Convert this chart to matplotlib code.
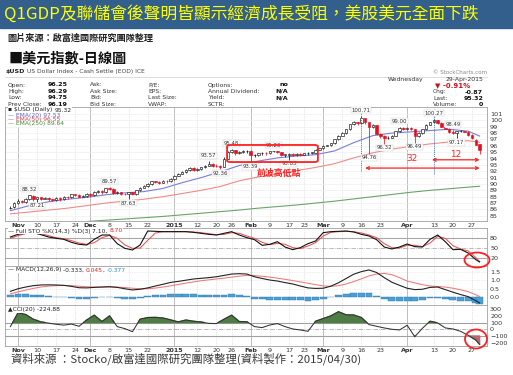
import matplotlib
matplotlib.use("Agg")
import matplotlib.pyplot as plt
from matplotlib.patches import Rectangle, FancyBboxPatch, Ellipse
from matplotlib.lines import Line2D

plt.rcParams['font.family'] = ['DejaVu Sans', 'Noto Sans CJK TC']
CJK = ['Noto Sans CJK TC', 'DejaVu Sans']

# ---------------- data (trading-day index 0 = 30-Oct-2014 ... 123 = 29-Apr-2015)
close = [86.3, 87.0,
         87.4, 87.1, 87.6, 88.2, 87.6,
         87.9, 87.7, 87.8, 87.6, 87.5,
         87.8, 87.6, 88.0, 87.9, 88.4,
         88.3, 88.0, 88.1, 88.5,
         88.2, 88.8, 88.9, 88.7, 89.3,
         89.2, 88.6, 88.7, 88.5, 88.4,
         88.7, 88.4, 89.0, 89.4, 89.7,
         90.0, 90.4, 90.3, 90.2,
         90.5, 90.4, 90.8, 91.3,
         91.6, 91.9, 92.2, 92.5, 92.2,
         92.3, 92.6, 92.9, 93.2, 92.9,
         92.8, 92.7, 94.0, 95.0,
         95.3, 94.8, 95.1, 95.2, 95.2,
         94.5, 94.5, 94.8, 94.9, 94.8,
         95.2, 95.2, 95.1, 94.6, 94.6,
         94.7, 94.6, 94.7, 94.6,
         94.8, 94.9, 94.9, 95.4, 95.6,
         96.0, 96.1, 96.4, 97.0, 97.6,
         98.0, 98.6, 99.4, 99.7, 99.6,
         100.3, 99.7, 98.9, 99.2, 97.9,
         97.6, 97.2, 97.3, 97.6, 98.3,
         98.8, 98.7, 98.8, 98.6,
         97.5, 98.0, 98.6, 99.3, 99.7,
         100.1, 99.6, 99.0, 98.7, 98.2,
         98.0, 98.3, 98.4, 98.2, 97.7,
         97.2, 96.19, 95.32]
open_ = [86.2, 86.4,
         87.0, 87.4, 87.1, 87.6, 88.1,
         87.6, 87.9, 87.7, 87.8, 87.6,
         87.5, 87.8, 87.6, 88.0, 87.9,
         88.4, 88.3, 88.0, 88.1,
         88.5, 88.2, 88.8, 88.9, 88.7,
         89.3, 89.2, 88.6, 88.7, 88.5,
         88.4, 88.7, 88.4, 89.0, 89.4,
         89.7, 90.0, 90.4, 90.3,
         90.2, 90.5, 90.4, 90.8,
         91.3, 91.6, 91.9, 92.2, 92.5,
         92.2, 92.3, 92.6, 92.9, 93.2,
         92.9, 92.8, 92.7, 94.0,
         95.0, 95.3, 94.8, 95.1, 95.2,
         95.2, 94.5, 94.5, 94.8, 94.9,
         94.8, 95.2, 95.2, 95.1, 94.6,
         94.6, 94.7, 94.6, 94.7,
         94.6, 94.8, 94.9, 94.9, 95.4,
         95.6, 96.0, 96.1, 96.4, 97.0,
         97.6, 98.0, 98.6, 99.4, 99.7,
         99.6, 100.3, 99.7, 98.9, 99.2,
         97.9, 97.6, 97.2, 97.3, 97.6,
         98.3, 98.8, 98.7, 98.8,
         98.6, 97.5, 98.0, 98.6, 99.3,
         99.7, 100.1, 99.6, 99.0, 98.7,
         98.2, 98.0, 98.3, 98.4, 98.2,
         97.7, 96.9, 96.25]
high = [86.5, 87.2,
        87.6, 87.5, 87.8, 88.32, 88.2,
        88.0, 88.0, 87.9, 87.9, 87.7,
        87.9, 87.9, 88.1, 88.1, 88.5,
        88.5, 88.4, 88.2, 88.6,
        88.6, 88.9, 89.1, 89.0, 89.4,
        89.57, 89.3, 88.9, 88.8, 88.6,
        88.8, 88.8, 89.1, 89.5, 89.8,
        90.1, 90.5, 90.5, 90.4,
        90.6, 90.6, 90.9, 91.4,
        91.8, 92.0, 92.3, 92.6, 92.6,
        92.5, 92.7, 93.0, 93.57, 93.3,
        93.1, 93.0, 94.2, 95.2,
        95.48, 95.3, 95.2, 95.3, 95.4,
        95.3, 94.7, 94.9, 95.0, 95.0,
        95.2, 95.23, 95.2, 95.1, 94.7,
        94.8, 94.8, 94.8, 94.8,
        94.9, 95.0, 95.0, 95.5, 95.7,
        96.1, 96.2, 96.5, 97.1, 97.7,
        98.1, 98.7, 99.5, 99.9, 99.8,
        100.71, 100.3, 99.8, 99.4, 99.3,
        98.0, 97.7, 97.5, 97.7, 98.4,
        99.0, 98.9, 98.9, 98.9,
        98.7, 98.1, 98.7, 99.4, 99.8,
        100.27, 100.1, 99.7, 99.1, 98.8,
        98.49, 98.4, 98.45, 98.4, 98.3,
        97.8, 97.0, 96.29]
low = [86.1, 86.3,
       86.9, 87.0, 87.0, 87.5, 87.3,
       87.21, 87.5, 87.6, 87.4, 87.3,
       87.4, 87.4, 87.5, 87.7, 87.8,
       88.1, 87.9, 87.9, 88.0,
       88.0, 88.1, 88.6, 88.5, 88.6,
       89.0, 88.4, 88.5, 88.3, 88.2,
       87.63, 88.2, 88.3, 88.9, 89.3,
       89.6, 89.9, 90.1, 90.0,
       90.1, 90.2, 90.3, 90.7,
       91.2, 91.5, 91.8, 92.1, 92.0,
       92.0, 92.2, 92.5, 92.8, 92.7,
       92.6, 92.36, 92.6, 93.9,
       94.8, 94.6, 94.7, 94.9, 94.9,
       93.39, 94.3, 94.4, 94.6, 94.5,
       94.7, 95.0, 94.9, 94.4, 94.3,
       93.83, 94.4, 94.4, 94.4,
       94.5, 94.6, 94.7, 94.8, 95.3,
       95.5, 95.9, 96.0, 96.3, 96.9,
       97.5, 97.9, 98.5, 99.3, 99.3,
       99.5, 99.5, 94.76, 98.8, 97.7,
       97.3, 96.32, 97.0, 97.2, 97.5,
       98.2, 98.5, 98.5, 98.5,
       96.49, 97.4, 97.9, 98.5, 99.2,
       99.6, 99.4, 98.9, 98.6, 98.0,
       97.8, 97.17, 98.1, 98.1, 97.6,
       97.1, 96.1, 94.75]

ema_idx = [0, 5, 10, 15, 20, 25, 30, 35, 40, 45, 50, 55, 60, 65, 70, 75, 80,
           85, 90, 95, 100, 105, 110, 115, 120, 123]
ema20 = [85.8, 86.6, 87.2, 87.6, 87.9, 88.3, 88.6, 88.8, 89.3, 90.2, 91.0, 91.9,
         92.9, 93.6, 94.1, 94.4, 94.6, 95.2, 96.5, 97.6, 98.0, 98.2, 98.4, 98.6,
         98.3, 97.53]
ema50 = [85.3, 85.6, 85.9, 86.2, 86.6, 87.0, 87.3, 87.6, 88.0, 88.5, 89.0, 89.6,
         90.5, 91.1, 91.6, 92.1, 92.6, 93.2, 94.1, 94.9, 95.5, 95.9, 96.3, 96.6,
         96.8, 96.55]
ema250 = [83.3, 83.5, 83.7, 83.9, 84.1, 84.3, 84.5, 84.7, 84.9, 85.15, 85.4, 85.65,
          85.9, 86.2, 86.45, 86.7, 87.0, 87.3, 87.65, 88.0, 88.35, 88.7, 89.0,
          89.25, 89.5, 89.64]

# oscillators, read every second trading day
osc_idx = list(range(0, 124, 2)) + [123]
sto_k = [82, 90, 94, 95, 89, 82, 78, 75, 66, 60,
         58, 75, 88, 88, 62, 48, 43, 58, 100, 99,
         98, 98, 98, 98, 96, 93, 90, 88, 93, 98,
         88, 80, 74, 57, 60, 68, 52, 44, 50, 62,
         70, 95, 98, 99, 100, 97, 90, 85, 74, 52,
         46, 52, 61, 53, 52, 75, 88, 68, 44, 45,
         34, 14, 7.10]
sto_d = [78, 86, 92, 94, 92, 86, 80, 77, 71, 64,
         60, 65, 80, 87, 78, 58, 48, 49, 72, 94,
         98, 98, 98, 98, 97, 95, 92, 89, 90, 95,
         93, 85, 78, 66, 59, 63, 60, 50, 47, 55,
         65, 85, 96, 98, 99, 98, 94, 88, 80, 62,
         50, 49, 57, 57, 53, 64, 84, 78, 56, 46,
         40, 20, 8.70]
macd = [0.35, 0.5, 0.6, 0.68, 0.72, 0.73, 0.72, 0.7, 0.64, 0.56,
        0.55, 0.58, 0.6, 0.62, 0.58, 0.5, 0.43, 0.47, 0.55, 0.66,
        0.76, 0.87, 0.93, 1.0, 1.07, 1.11, 1.15, 1.2, 1.28, 1.36,
        1.38, 1.36, 1.2, 1.1, 1.01, 0.95, 0.86, 0.78, 0.66, 0.55,
        0.52, 0.53, 0.65, 0.85, 1.1, 1.35, 1.5, 1.6, 1.45, 1.15,
        0.88, 0.7, 0.53, 0.45, 0.47, 0.58, 0.6, 0.45, 0.3, 0.16,
        0.04, -0.2, -0.333]
macd_sig = [0.2, 0.32, 0.42, 0.52, 0.6, 0.65, 0.68, 0.69, 0.68, 0.65,
            0.62, 0.6, 0.6, 0.6, 0.6, 0.57, 0.53, 0.5, 0.5, 0.54,
            0.6, 0.67, 0.75, 0.83, 0.9, 0.97, 1.02, 1.07, 1.12, 1.18,
            1.24, 1.28, 1.27, 1.23, 1.18, 1.12, 1.05, 0.98, 0.9, 0.82,
            0.74, 0.67, 0.64, 0.68, 0.78, 0.92, 1.08, 1.25, 1.36, 1.40,
            1.32, 1.15, 0.95, 0.84, 0.74, 0.66, 0.63, 0.6, 0.53, 0.44,
            0.33, 0.15, 0.045]
macd_hist = [0.15, 0.18, 0.18, 0.16, 0.12, 0.08, 0.04, 0.01, -0.04, -0.09,
             -0.07, -0.02, 0.0, 0.02, -0.02, -0.07, -0.1, -0.03, 0.05, 0.12,
             0.16, 0.2, 0.18, 0.17, 0.17, 0.14, 0.13, 0.13, 0.16, 0.18,
             0.14, 0.08, -0.07, -0.11, -0.14, -0.14, -0.15, -0.16, -0.18, -0.2,
             -0.17, -0.11, 0.01, 0.12, 0.22, 0.28, 0.28, 0.24, 0.08, -0.12,
             -0.22, -0.24, -0.22, -0.2, -0.14, -0.05, -0.02, -0.08, -0.14, -0.2,
             -0.24, -0.32, -0.377]
cci = [40, 245, 220, 150, 110, 92, 75, 62, 78, 45,
       139, 210, 115, 200, 40, 10, -36, 150, 175, 178,
       168, 140, 110, 138, 120, 108, 88, 85, 150, 210,
       115, 112, 40, 25, 64, 85, 40, 5, -10, -30,
       120, 160, 200, 262, 215, 213, 175, 70, 45, 20,
       0, -10, 60, -110, 15, 120, 95, 20, 5, -30,
       -90, -160, -224.88]

tick_idx = [2, 7, 12, 17, 21, 26, 31, 36, 43, 49, 54, 58, 63, 68, 73, 77,
            82, 87, 92, 97, 104, 111, 116, 121]
tick_lab = ['Nov', '10', '17', '24', 'Dec', '8', '15', '22', '2015', '12', '20',
            '26', 'Feb', '9', '17', '23', 'Mar', '9', '16', '23', 'Apr', '13',
            '20', '27']
month_lab = ['Nov', 'Dec', '2015', 'Feb', 'Mar', 'Apr']

# swing points annotated on the chart (day index, 1 = high / 0 = low)
swing_idx = [5, 7, 26, 31, 52, 55, 58, 63, 69, 73, 92, 94, 98, 102, 106, 111, 116, 117]
swing_up = [1, 0, 1, 0, 1, 0, 1, 0, 1, 0, 1, 0, 0, 1, 0, 1, 1, 0]

info_rows = [
    [('Open:', '96.25'), ('Ask:', ''), ('P/E:', ''), ('Options:', 'no')],
    [('High:', '96.29'), ('Ask Size:', ''), ('EPS:', ''), ('Annual Dividend:', 'N/A')],
    [('Low:', '94.75'), ('Bid:', ''), ('Last Size:', ''), ('Yield:', 'N/A')],
    [('Prev Close:', '96.19'), ('Bid Size:', ''), ('VWAP:', ''), ('SCTR:', '')],
]
quote_rows = [('Chg:', '-0.87'), ('Last:', '95.32'), ('Volume:', '0')]

# ---------------- figure
W, H = 513, 375
fig = plt.figure(figsize=(W / 100, H / 100), dpi=100)
fig.patch.set_facecolor('white')
renderer = fig.canvas.get_renderer()


def px_axes(x0, y0, x1, y1):
    return fig.add_axes([x0 / W, 1 - y1 / H, (x1 - x0) / W, (y1 - y0) / H])


def ftext(x, y, s, **kw):
    kw.setdefault('va', 'center')
    return fig.text(x / W, 1 - y / H, s, **kw)


def seg_text(x, y, parts, size=4.3, bg=False):
    for s, col in parts:
        t = ftext(x, y, s, color=col, fontsize=size)
        if bg:
            t.set_bbox(dict(fc='white', ec='none', pad=0.2))
        x += t.get_window_extent(renderer).width


# slide title bar
fig.patches.append(Rectangle((0, 1 - 28 / H), 1, 28 / H, transform=fig.transFigure,
                             color='#335f8d', zorder=0))
ftext(4, 14, 'Q1GDP及聯儲會後聲明皆顯示經濟成長受阻，美股美元全面下跌',
      color='#ffff00', fontsize=12.1, family=CJK)
ftext(7, 38, '圖片來源：啟富達國際研究團隊整理', color='#222222', fontsize=6.6,
      family=CJK, fontweight='bold')
ftext(9, 58, '■美元指數-日線圖', color='#111111', fontsize=10.2, family=CJK,
      fontweight='bold')
ftext(11, 359, '資料來源 ：Stocko/啟富達國際研究團隊整理(資料製作：2015/04/30)',
      color='#3a3a3a', fontsize=8.2, family=CJK, fontweight='light')

# StockCharts header
t = ftext(6, 72, '$USD', fontsize=4.5, fontweight='bold', color='#222222')
ftext(6 + t.get_window_extent(renderer).width + 2, 72,
      'US Dollar Index - Cash Settle (EOD) ICE', fontsize=4.3, color='#444444')
ftext(487, 72, '© StockCharts.com', fontsize=4.0, color='#888888', ha='right')
fig.add_artist(Line2D([5 / W, 487 / W], [1 - 76.5 / H] * 2, color='#cfcfcf', lw=0.5))
ftext(388, 79, 'Wednesday', fontsize=4.4, color='#333333')
ftext(483, 79, '29-Apr-2015', fontsize=4.4, color='#333333', ha='right')
ftext(435, 85.5, '▼ -0.91%', fontsize=5.0, color='#d0101a', fontweight='bold')
for k, (lab, val) in enumerate(quote_rows):
    yy = 92 + k * 6.2
    ftext(433, yy, lab, fontsize=4.3, color='#333333')
    ftext(483, yy, val, fontsize=4.5, color='#111111', ha='right', fontweight='bold')

col_x = [8, 90, 148, 208]
val_x = [68, None, None, 288]
for r, row in enumerate(info_rows):
    yy = 85 + r * 6.4
    for c, (lab, val) in enumerate(row):
        ftext(col_x[c], yy, lab, fontsize=4.3, color='#333333')
        if val:
            ftext(val_x[c], yy, val, fontsize=4.6, color='#111111', ha='right',
                  fontweight='bold')

# ---------------- panels
XL = (-1.41, 124.93)
ax = px_axes(5, 107, 487, 221)
ax_sto = px_axes(5, 228, 487, 266)
ax_macd = px_axes(5, 266, 487, 305)
ax_cci = px_axes(5, 305, 487, 346)

for a in (ax, ax_sto, ax_macd, ax_cci):
    a.set_xlim(*XL)
    a.set_facecolor('white')
    for sp in a.spines.values():
        sp.set_color('#a0a0a0')
        sp.set_linewidth(0.6)
    a.yaxis.tick_right()
    a.tick_params(axis='y', length=0, labelsize=4.6, pad=2.2, colors='#333333')
    a.tick_params(axis='x', length=0, labelsize=4.6, pad=1.2, colors='#333333')
    a.set_xticks(tick_idx)
    for d, lab in zip(tick_idx, tick_lab):
        if lab in month_lab:
            a.axvline(d, color='#b4b4b4', lw=0.6, zorder=0)
        else:
            a.axvline(d, color='#cfcfcf', lw=0.4, ls=(0, (2, 2)), zorder=0)

for a in (ax, ax_cci):
    a.set_xticklabels(tick_lab)
    for tl in a.get_xticklabels():
        if tl.get_text() in month_lab:
            tl.set_fontweight('bold')
for a in (ax_sto, ax_macd):
    a.set_xticklabels([])

# price panel
ax.set_ylim(84.18, 102.1)
ax.set_yticks(range(85, 102))
for v in range(85, 102):
    ax.axhline(v, color='#ececec', lw=0.4, zorder=0)

ax.plot(ema_idx, ema250, color='#6aa46a', lw=0.8, zorder=2)
ax.plot(ema_idx, ema50, color='#f08a8a', lw=0.8, zorder=2)
ax.plot(ema_idx, ema20, color='#7c7cd8', lw=0.8, zorder=2)

days = list(range(len(close)))
for i in days:
    prev = close[i - 1] if i > 0 else open_[i]
    col = '#e01020' if close[i] < prev else '#111111'
    ax.vlines(i, low[i], high[i], colors=col, lw=0.55, zorder=3)
    lo, hi = min(open_[i], close[i]), max(open_[i], close[i])
    face = 'white' if close[i] >= open_[i] else col
    ax.bar(i, max(hi - lo, 0.06), bottom=lo, width=0.66, color=face,
           edgecolor=col, linewidth=0.45, zorder=4)

for d, up in zip(swing_idx, swing_up):
    v = high[d] if up else low[d]
    ax.annotate(f'{v:.2f}', (d, v), xytext=(0, 2.2 if up else -1.2),
                textcoords='offset points', ha='center',
                va='bottom' if up else 'top', fontsize=3.9, color='#333333',
                zorder=6, bbox=dict(boxstyle='square,pad=0.12', fc='white',
                                    ec='#c8c8c8', lw=0.3))

# hand-drawn style notes on the price panel
red = '#ff2020'
ax.add_patch(FancyBboxPatch((56.8, 93.45), 23.8, 2.68,
                            boxstyle='round,pad=0,rounding_size=0.9',
                            fill=False, ec=red, lw=1.3, zorder=7,
                            mutation_aspect=0.25))
ax.text(70.5, 91.75, '前波高低點', color=red, fontsize=6.4, family=CJK,
        fontweight='bold', ha='center', va='center', zorder=7)
peak1, peak2, last = 92, 111, len(close) - 1
ax.vlines([peak1, peak2], [92.1, 91.6], [101.7, 101.6], colors='#4a7fd0',
          lw=0.7, linestyles=(0, (1, 1)), zorder=5)
ax.annotate('', xy=(last, 92.5), xytext=(peak1 + 1, 92.5), zorder=7,
            arrowprops=dict(arrowstyle='<->', color=red, lw=0.9,
                            mutation_scale=5, shrinkA=0, shrinkB=0))
ax.annotate('', xy=(last, 93.8), xytext=(peak2 - 0.5, 93.8), zorder=7,
            arrowprops=dict(arrowstyle='<->', color=red, lw=0.9,
                            mutation_scale=5, shrinkA=0, shrinkB=0))
ax.text(105.3, 94.05, '32', color=red, fontsize=6.4, ha='center', va='center')
ax.text(116.6, 94.6, '12', color=red, fontsize=6.4, ha='center', va='center')

# price legend
seg_text(8, 110, [('▪ $USD (Daily) ', '#222222'), (f'{close[-1]:.2f}', '#222222')], bg=True)
seg_text(8, 115, [(f'— EMA(20) {ema20[-1]:.2f}', '#5a5ad0')], bg=True)
seg_text(8, 119.5, [(f'— EMA(50) {ema50[-1]:.2f}', '#e03c3c')], bg=True)
seg_text(8, 124, [(f'— EMA(250) {ema250[-1]:.2f}', '#3c8a3c')], bg=True)

# stochastic
ax_sto.set_ylim(-5, 109)
ax_sto.set_yticks([20, 50, 80])
ax_sto.axhline(80, color='#a8a8a8', lw=0.8, zorder=1)
ax_sto.axhline(20, color='#a8a8a8', lw=0.8, zorder=1)
ax_sto.axhline(50, color='#a0a0a0', lw=0.5, ls='-.', zorder=1)
ax_sto.plot(osc_idx, sto_d, color='#f05050', lw=0.75, zorder=3)
ax_sto.plot(osc_idx, sto_k, color='#111111', lw=0.8, zorder=4)
seg_text(8, 231, [('— Full STO %K(14,3) %D(3) ', '#222222'),
                  (f'{sto_k[-1]:.2f}, ', '#222222'),
                  (f'{sto_d[-1]:.2f}', '#e02020')], bg=True)

# MACD
ax_macd.set_ylim(-0.45, 1.83)
ax_macd.set_yticks([0.0, 0.5, 1.0, 1.5])
ax_macd.set_yticklabels(['0.0', '0.5', '1.0', '1.5'])
for v in (0.5, 1.0, 1.5):
    ax_macd.axhline(v, color='#dddddd', lw=0.4, ls=(0, (2, 2)), zorder=0)
ax_macd.bar(osc_idx, macd_hist, width=1.8, color='#49a0d6', edgecolor='#2f78aa',
            linewidth=0.3, zorder=2)
ax_macd.plot(osc_idx, macd_sig, color='#f07878', lw=0.75, zorder=3)
ax_macd.plot(osc_idx, macd, color='#222222', lw=0.8, zorder=4)
seg_text(8, 270, [('— MACD(12,26,9) ', '#222222'), (f'{macd[-1]:.3f}, ', '#222222'),
                  (f'{macd_sig[-1]:.3f}', '#e02020'), (', ', '#222222'),
                  (f'{macd_hist[-1]:.3f}', '#2f8fd0')], bg=True)

# CCI
ax_cci.set_ylim(-249, 362)
ax_cci.set_yticks([-200, -100, 0, 100, 200, 300])
ax_cci.axhline(100, color='#a0a0a0', lw=0.8, zorder=1)
ax_cci.axhline(-100, color='#a0a0a0', lw=0.8, zorder=1)
ax_cci.axhline(0, color='#a0a0a0', lw=0.5, ls='-.', zorder=1)
ax_cci.fill_between(osc_idx, cci, 100, where=[v > 100 for v in cci],
                    interpolate=True, color='#4f7c45', zorder=2)
ax_cci.fill_between(osc_idx, cci, -100, where=[v < -100 for v in cci],
                    interpolate=True, color='#b46a6a', zorder=2)
ax_cci.plot(osc_idx, cci, color='#333333', lw=0.75, zorder=3)
seg_text(8, 310, [(f'▲CCI(20) {cci[-1]:.2f}', '#222222')], bg=True)

# red circles
for cx, cy, w, h in [(477, 260, 25, 15), (476, 339, 22, 19)]:
    fig.add_artist(Ellipse((cx / W, 1 - cy / H), w / W, h / H,
                           transform=fig.transFigure, fill=False, ec=red, lw=1.3,
                           zorder=10))

fig.savefig('out.png', dpi=100)
